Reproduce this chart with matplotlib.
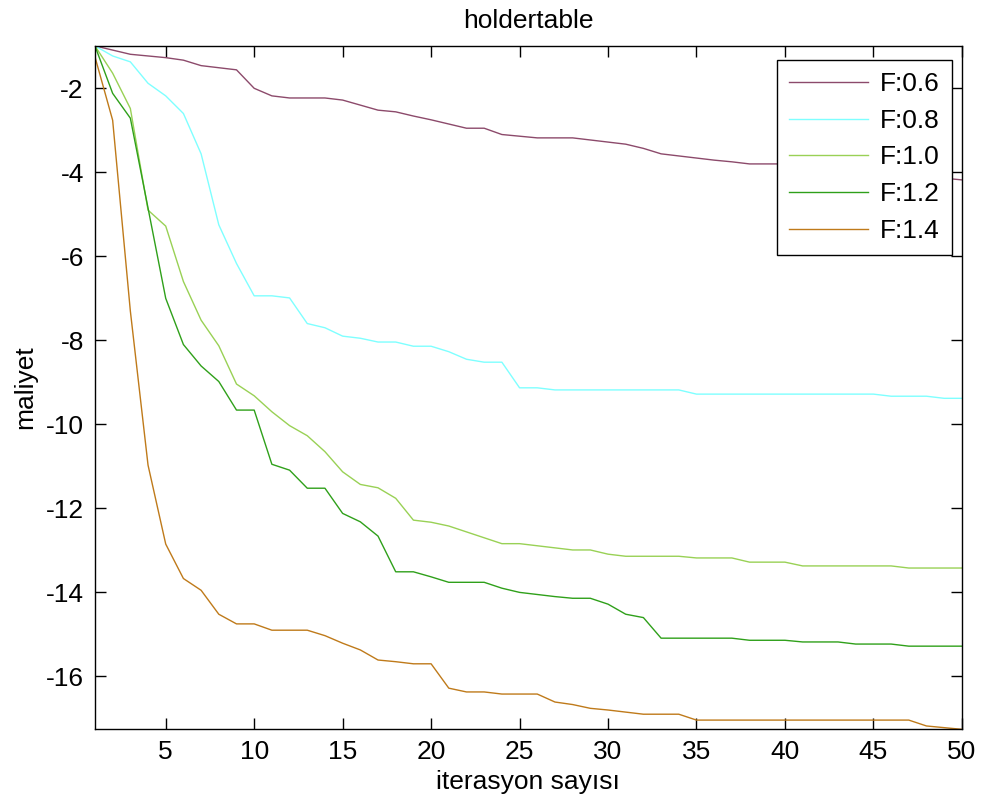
import numpy as np
import matplotlib.pyplot as plt

plt.rcParams['font.family'] = ['Liberation Sans', 'DejaVu Sans']
plt.rcParams['axes.unicode_minus'] = False

iterations = np.arange(1, 51)

# cost per iteration for each F value
cost_f06 = [-0.99, -1.09, -1.19, -1.23, -1.27, -1.33, -1.46, -1.51, -1.56, -2.00,
            -2.18, -2.23, -2.23, -2.23, -2.28, -2.40, -2.52, -2.56, -2.66, -2.75,
            -2.85, -2.95, -2.95, -3.10, -3.14, -3.18, -3.18, -3.18, -3.23, -3.28,
            -3.33, -3.43, -3.56, -3.61, -3.66, -3.71, -3.75, -3.80, -3.80, -3.80,
            -3.85, -3.90, -3.95, -3.98, -4.00, -4.03, -4.06, -4.10, -4.14, -4.18]
cost_f08 = [-0.99, -1.23, -1.37, -1.88, -2.18, -2.60, -3.56, -5.25, -6.17, -6.94,
            -6.94, -6.99, -7.60, -7.70, -7.90, -7.95, -8.04, -8.04, -8.14, -8.14,
            -8.27, -8.45, -8.52, -8.52, -9.13, -9.13, -9.18, -9.18, -9.18, -9.18,
            -9.18, -9.18, -9.18, -9.18, -9.28, -9.28, -9.28, -9.28, -9.28, -9.28,
            -9.28, -9.28, -9.28, -9.28, -9.28, -9.33, -9.33, -9.33, -9.38, -9.38]
cost_f10 = [-0.99, -1.64, -2.48, -4.90, -5.28, -6.60, -7.52, -8.13, -9.04, -9.32,
            -9.70, -10.03, -10.27, -10.65, -11.13, -11.43, -11.51, -11.76, -12.28, -12.33,
            -12.42, -12.56, -12.70, -12.84, -12.84, -12.89, -12.94, -12.99, -12.99, -13.09,
            -13.14, -13.14, -13.14, -13.14, -13.18, -13.18, -13.18, -13.28, -13.28, -13.28,
            -13.37, -13.37, -13.37, -13.37, -13.37, -13.37, -13.42, -13.42, -13.42, -13.42]
cost_f12 = [-0.99, -2.12, -2.71, -4.85, -7.00, -8.10, -8.61, -8.98, -9.66, -9.66,
            -10.95, -11.09, -11.52, -11.52, -12.12, -12.32, -12.66, -13.51, -13.51, -13.63,
            -13.76, -13.76, -13.76, -13.90, -14.00, -14.05, -14.10, -14.14, -14.14, -14.28,
            -14.52, -14.60, -15.09, -15.09, -15.09, -15.09, -15.09, -15.14, -15.14, -15.14,
            -15.18, -15.18, -15.18, -15.23, -15.23, -15.23, -15.28, -15.28, -15.28, -15.28]
cost_f14 = [-1.25, -2.76, -7.30, -10.97, -12.85, -13.67, -13.95, -14.52, -14.75, -14.75,
            -14.90, -14.90, -14.90, -15.03, -15.21, -15.37, -15.61, -15.65, -15.70, -15.70,
            -16.28, -16.37, -16.37, -16.42, -16.42, -16.42, -16.61, -16.67, -16.76, -16.80,
            -16.85, -16.90, -16.90, -16.90, -17.04, -17.04, -17.04, -17.04, -17.04, -17.04,
            -17.04, -17.04, -17.04, -17.04, -17.04, -17.04, -17.04, -17.18, -17.22, -17.26]

series = [cost_f06, cost_f08, cost_f10, cost_f12, cost_f14]
labels = ['F:0.6', 'F:0.8', 'F:1.0', 'F:1.2', 'F:1.4']
colors = ['#8C4A6B', '#7FFFFF', '#99D155', '#2FA01A', '#BF7A1A']

fig = plt.figure(figsize=(9.84, 8.05), dpi=100)
ax = fig.add_axes([0.0965, 0.094, 0.881, 0.849])

for vals, lab, col in zip(series, labels, colors):
    ax.plot(iterations, vals, color=col, lw=1.0, label=lab)

ax.set_xlim(1, 50)
ymin = min(min(s) for s in series)
ymax = max(max(s) for s in series)
ax.set_ylim(ymin, ymax)
ax.set_xticks(np.arange(5, 51, 5))
ax.set_yticks(np.arange(-16, -1, 2))

ax.tick_params(direction='in', top=True, right=True, length=8, width=1,
               labelsize=19, pad=8)
for sp in ax.spines.values():
    sp.set_linewidth(1.0)

ax.set_title('holdertable', fontsize=19, pad=13)
ax.set_xlabel('iterasyon sayısı', fontsize=19, labelpad=4)
ax.set_ylabel('maliyet', fontsize=19, labelpad=6)

leg = ax.legend(loc='upper right', bbox_to_anchor=(0.9885, 0.979), borderaxespad=0,
                fontsize=19, handlelength=3.0, handletextpad=0.45, labelspacing=0.48,
                borderpad=0.45, fancybox=False, framealpha=1, edgecolor='black')
leg.get_frame().set_linewidth(1.0)

fig.savefig('out.png', dpi=100)
